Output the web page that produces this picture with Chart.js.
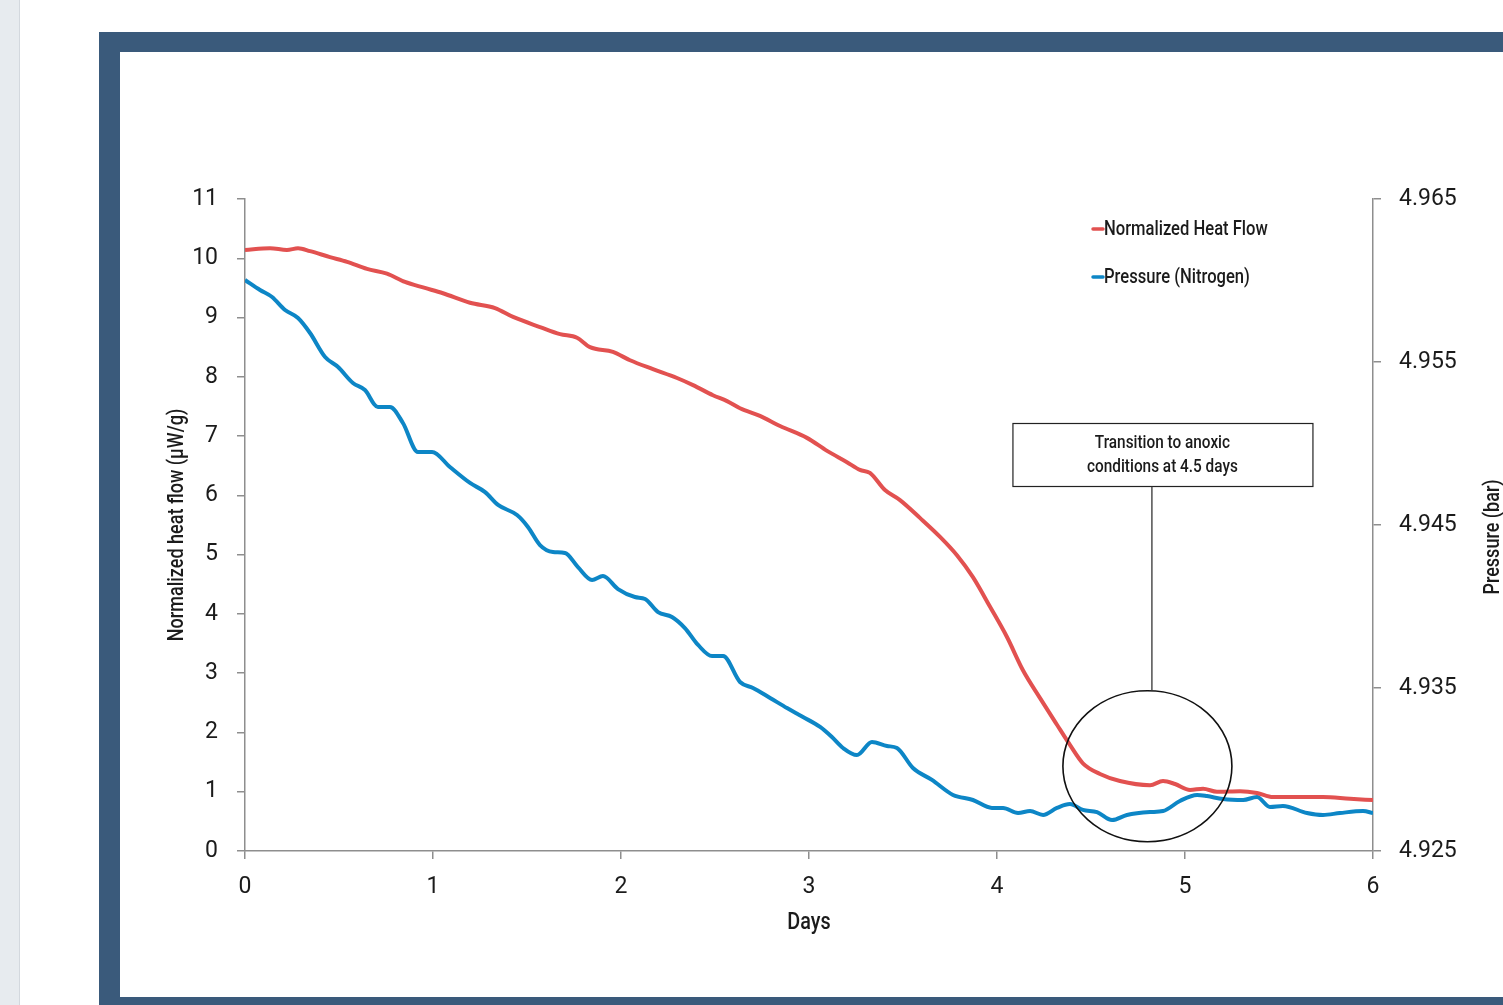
<!DOCTYPE html>
<html>
<head>
<meta charset="utf-8">
<script src="https://cdn.jsdelivr.net/npm/chart.js@4/dist/chart.umd.min.js"></script>
<style>
  html, body { margin: 0; padding: 0; width: 1503px; height: 1005px; overflow: hidden; background: #ffffff; }
  #side { position: absolute; left: 0; top: 0; width: 19px; height: 1005px; background: #e7ebef; border-right: 1px solid #d3d8de; }
  #frame { position: absolute; left: 99px; top: 32px; width: 1500px; height: 986px; box-sizing: border-box; border: 21px solid #3a5a7b; border-top-width: 20px; background: #ffffff; }
  #wrap { position: absolute; left: 120px; top: 52px; width: 1383px; height: 945px; }
</style>
</head>
<body>
<div id="side"></div>
<div id="frame"></div>
<div id="wrap"><canvas id="chart"></canvas></div>
<script>
// Normalized heat flow (µW/g) versus time (days)
const heatDays = [0.000, 0.133, 0.223, 0.282, 0.346, 0.452, 0.543, 0.649, 0.755, 0.851, 0.957, 1.053, 1.197, 1.330, 1.426, 1.569, 1.676, 1.766, 1.835, 1.957, 2.048, 2.170, 2.298, 2.383, 2.489, 2.564, 2.633, 2.739, 2.846, 2.989, 3.096, 3.202, 3.271, 3.324, 3.404, 3.484, 3.590, 3.697, 3.787, 3.872, 3.963, 4.053, 4.138, 4.229, 4.319, 4.388, 4.457, 4.548, 4.654, 4.814, 4.883, 4.947, 5.027, 5.096, 5.170, 5.293, 5.383, 5.468, 5.612, 5.734, 5.878, 6.000];
const heatFlow = [10.14, 10.17, 10.14, 10.17, 10.12, 10.02, 9.94, 9.82, 9.74, 9.60, 9.50, 9.41, 9.25, 9.16, 9.01, 8.84, 8.72, 8.66, 8.50, 8.42, 8.28, 8.13, 7.98, 7.86, 7.69, 7.59, 7.47, 7.34, 7.17, 6.97, 6.75, 6.56, 6.43, 6.38, 6.09, 5.92, 5.62, 5.30, 4.99, 4.62, 4.12, 3.61, 3.05, 2.58, 2.13, 1.79, 1.48, 1.30, 1.18, 1.11, 1.18, 1.13, 1.03, 1.05, 1.00, 1.01, 0.98, 0.91, 0.91, 0.91, 0.88, 0.86];

// Nitrogen pressure (bar) versus time (days)
const pressureDays = [0.000, 0.080, 0.144, 0.213, 0.282, 0.346, 0.426, 0.495, 0.574, 0.638, 0.707, 0.771, 0.840, 0.920, 0.995, 1.090, 1.197, 1.277, 1.346, 1.447, 1.505, 1.569, 1.638, 1.702, 1.771, 1.846, 1.904, 1.984, 2.074, 2.128, 2.197, 2.271, 2.340, 2.410, 2.484, 2.543, 2.633, 2.702, 2.793, 2.883, 2.968, 3.059, 3.122, 3.181, 3.255, 3.335, 3.415, 3.468, 3.553, 3.654, 3.766, 3.872, 3.973, 4.032, 4.112, 4.176, 4.245, 4.319, 4.388, 4.457, 4.532, 4.612, 4.691, 4.814, 4.883, 4.973, 5.064, 5.117, 5.202, 5.309, 5.383, 5.452, 5.521, 5.649, 5.734, 5.824, 5.947, 6.000];
const pressure = [4.96003, 4.95942, 4.95899, 4.95819, 4.95770, 4.95678, 4.95531, 4.95469, 4.95371, 4.95328, 4.95224, 4.95224, 4.95126, 4.94948, 4.94948, 4.94856, 4.94758, 4.94702, 4.94623, 4.94561, 4.94488, 4.94377, 4.94334, 4.94328, 4.94242, 4.94163, 4.94187, 4.94107, 4.94058, 4.94046, 4.93966, 4.93936, 4.93868, 4.93764, 4.93696, 4.93696, 4.93537, 4.93500, 4.93439, 4.93377, 4.93322, 4.93261, 4.93199, 4.93132, 4.93089, 4.93169, 4.93144, 4.93132, 4.93009, 4.92936, 4.92844, 4.92813, 4.92764, 4.92764, 4.92733, 4.92745, 4.92721, 4.92764, 4.92788, 4.92752, 4.92739, 4.92690, 4.92721, 4.92739, 4.92745, 4.92807, 4.92844, 4.92837, 4.92819, 4.92813, 4.92831, 4.92770, 4.92776, 4.92733, 4.92721, 4.92733, 4.92745, 4.92733];

// Axis ranges and tick steps
const dayTicks = [0, 1, 2, 3, 4, 5, 6];
const heatTicks = [0, 1, 2, 3, 4, 5, 6, 7, 8, 9, 10, 11];
const pressureTicks = [4.925, 4.935, 4.945, 4.955, 4.965];

const seriesLabels = ['Normalized Heat Flow', 'Pressure (Nitrogen)'];
const xTitle = 'Days';
const yLeftTitle = 'Normalized heat flow (\u00b5W/g)';
const yRightTitle = 'Pressure (bar)';
const noteLines = ['Transition to anoxic', 'conditions at 4.5 days'];

const RED = '#e25150';
const BLUE = '#0d86c6';
const AXIS = '#8e8e8e';
const TEXT = '#1b1b1b';
const TICK_FONT = { family: 'Roboto, "Liberation Sans", sans-serif', size: 23 };
const CONDENSED = 'Roboto, "Liberation Sans", sans-serif';

function toPoints(xs, ys) { return xs.map((x, i) => ({ x: x, y: ys[i] })); }

// Draws text narrowed horizontally, as in a condensed typeface
function narrowText(ctx, text, x, y, size, opts) {
  opts = opts || {};
  ctx.save();
  ctx.translate(x, y);
  if (opts.rotate) ctx.rotate(opts.rotate);
  ctx.scale(opts.stretch || 0.8, 1);
  ctx.font = '500 ' + size + 'px ' + CONDENSED;
  ctx.fillStyle = opts.color || TEXT;
  ctx.textAlign = opts.align || 'left';
  ctx.textBaseline = opts.baseline || 'middle';
  ctx.fillText(text, 0, 0);
  ctx.restore();
}

const decorations = {
  id: 'decorations',
  afterDraw(chart) {
    const ctx = chart.ctx;
    const area = chart.chartArea;
    const xs = chart.scales.x;
    const yl = chart.scales.yHeat;

    // Axis titles
    narrowText(ctx, xTitle, (area.left + area.right) / 2, area.bottom + 72, 23, { align: 'center', stretch: 0.86 });
    narrowText(ctx, yLeftTitle, area.left - 68, (area.top + area.bottom) / 2, 22, { align: 'center', rotate: -Math.PI / 2, stretch: 0.82 });
    narrowText(ctx, yRightTitle, area.right + 120, (area.top + area.bottom) / 2 + 12, 22, { align: 'center', rotate: -Math.PI / 2, stretch: 0.82 });

    // Legend
    const lx = area.left + 847;
    const rows = [[seriesLabels[0], RED], [seriesLabels[1], BLUE]];
    rows.forEach((r, i) => {
      const ly = area.top + 30 + i * 48;
      ctx.save();
      ctx.strokeStyle = r[1];
      ctx.lineWidth = 3.5;
      ctx.lineCap = 'round';
      ctx.beginPath();
      ctx.moveTo(lx + 1, ly);
      ctx.lineTo(lx + 11, ly);
      ctx.stroke();
      ctx.restore();
      narrowText(ctx, r[0], lx + 12, ly + 1, 21, { stretch: 0.79 });
    });

    // Callout: ellipse around the transition, leader line and note box
    const cx = xs.getPixelForValue(4.8);
    const cy = yl.getPixelForValue(1.43);
    const rx = 84.5, ry = 75.5;
    ctx.save();
    ctx.strokeStyle = '#111111';
    ctx.lineWidth = 1.6;
    ctx.beginPath();
    ctx.ellipse(cx, cy, rx, ry, 0, 0, Math.PI * 2);
    ctx.stroke();

    const bx = xs.getPixelForValue(4.88);
    const bw = 300, bh = 63;
    const bTop = area.top + 224;
    ctx.fillStyle = '#ffffff';
    ctx.fillRect(bx - bw / 2, bTop, bw, bh);
    ctx.lineWidth = 1.2;
    ctx.strokeStyle = '#222222';
    ctx.strokeRect(bx - bw / 2 + 0.5, bTop + 0.5, bw, bh);

    const leadX = xs.getPixelForValue(4.824);
    ctx.strokeStyle = '#333333';
    ctx.lineWidth = 1.3;
    ctx.beginPath();
    ctx.moveTo(leadX, bTop + bh + 0.5);
    ctx.lineTo(leadX, cy - ry);
    ctx.stroke();
    ctx.restore();

    narrowText(ctx, noteLines[0], bx, bTop + 20, 18.5, { align: 'center', stretch: 0.83 });
    narrowText(ctx, noteLines[1], bx, bTop + 44, 18.5, { align: 'center', stretch: 0.83 });
  }
};

new Chart(document.getElementById('chart'), {
  type: 'line',
  data: {
    datasets: [
      {
        label: seriesLabels[0],
        data: toPoints(heatDays, heatFlow),
        yAxisID: 'yHeat',
        borderColor: RED,
        borderWidth: 4,
        pointRadius: 0,
        cubicInterpolationMode: 'monotone',
        fill: false
      },
      {
        label: seriesLabels[1],
        data: toPoints(pressureDays, pressure),
        yAxisID: 'yPressure',
        borderColor: BLUE,
        borderWidth: 4,
        pointRadius: 0,
        cubicInterpolationMode: 'monotone',
        fill: false
      }
    ]
  },
  options: {
    responsive: true,
    maintainAspectRatio: false,
    animation: false,
    events: [],
    layout: { padding: { top: 147, left: 0, right: 0, bottom: 0 } },
    plugins: { legend: { display: false }, tooltip: { enabled: false } },
    scales: {
      x: {
        type: 'linear',
        min: dayTicks[0],
        max: dayTicks[dayTicks.length - 1],
        afterBuildTicks: s => { s.ticks = dayTicks.map(v => ({ value: v })); },
        afterFit: s => { s.height = 146; },
        grid: { drawOnChartArea: false, color: AXIS, lineWidth: 1.5, tickLength: 8 },
        border: { color: AXIS, width: 1.5 },
        ticks: { color: TEXT, font: TICK_FONT, padding: 14, maxRotation: 0 }
      },
      yHeat: {
        type: 'linear',
        position: 'left',
        min: heatTicks[0],
        max: heatTicks[heatTicks.length - 1],
        afterBuildTicks: s => { s.ticks = heatTicks.map(v => ({ value: v })); },
        afterFit: s => { s.width = 125; },
        grid: { drawOnChartArea: false, color: AXIS, lineWidth: 1.5, tickLength: 8 },
        border: { color: AXIS, width: 1.5 },
        ticks: { color: TEXT, font: TICK_FONT, padding: 19 }
      },
      yPressure: {
        type: 'linear',
        position: 'right',
        min: pressureTicks[0],
        max: pressureTicks[pressureTicks.length - 1],
        afterBuildTicks: s => { s.ticks = pressureTicks.map(v => ({ value: v })); },
        afterFit: s => { s.width = 130; },
        grid: { drawOnChartArea: false, color: AXIS, lineWidth: 1.5, tickLength: 8 },
        border: { color: AXIS, width: 1.5 },
        ticks: { color: TEXT, font: TICK_FONT, padding: 18, callback: v => v.toFixed(3) }
      }
    }
  },
  plugins: [decorations]
});
</script>
</body>
</html>
